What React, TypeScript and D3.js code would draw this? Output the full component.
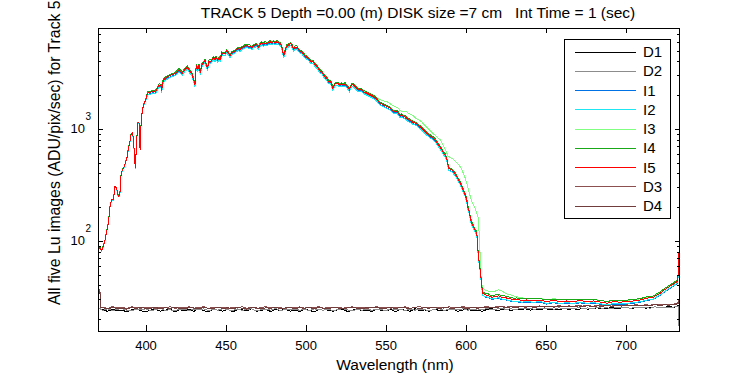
import React from 'react';
import * as d3 from 'd3';

// wavelength grid (nm) for the five Lu images
const wl = [
  370.0,371.3,372.3,373.4,374.4,375.4,376.5,377.5,378.5,379.6,
  380.6,381.7,382.3,383.1,383.8,384.4,385.2,386.5,387.3,388.3,
  389.0,389.8,390.6,391.5,392.1,392.7,393.3,393.9,394.8,395.6,
  396.3,396.9,397.7,398.9,399.8,401.0,402.5,404.0,405.6,406.7,
  408.1,409.4,409.8,410.8,412.3,413.9,416.0,418.1,420.6,422.7,
  424.4,426.0,427.5,428.5,429.8,430.6,431.4,432.3,433.1,433.9,
  434.8,435.8,436.9,437.9,438.5,439.4,440.6,441.5,442.1,443.1,
  443.8,444.8,445.6,446.5,447.3,448.3,449.4,450.4,451.5,452.5,
  453.5,454.6,455.6,456.7,457.7,458.8,459.8,461.5,462.9,463.9,
  465.0,466.0,467.1,468.1,469.2,470.2,471.3,472.3,473.3,474.4,
  475.4,476.5,477.5,478.6,479.6,480.6,481.7,482.7,483.8,484.8,
  485.4,486.1,486.9,487.9,489.4,490.4,491.5,492.1,493.1,494.2,
  495.2,496.3,497.3,498.3,499.4,500.4,501.5,502.5,503.5,504.6,
  505.6,506.7,507.7,508.8,509.8,510.8,512.0,512.9,514.0,515.4,
  516.7,518.1,520.2,521.3,522.3,523.3,524.4,525.4,526.5,527.1,
  527.9,528.5,529.6,530.6,531.7,532.7,533.8,534.8,535.8,537.9,
  540.0,542.1,544.2,545.2,546.3,548.3,550.4,552.5,553.5,554.6,
  556.7,557.7,558.8,559.8,560.8,561.9,562.9,564.0,565.0,566.0,
  567.1,569.2,570.2,571.3,572.3,573.3,574.4,575.4,577.5,579.6,
  580.6,581.7,582.7,583.8,584.8,585.8,586.9,587.9,588.5,588.9,
  590.0,591.0,592.1,593.1,594.2,595.2,596.3,597.3,598.3,599.4,
  600.4,601.0,602.1,602.9,603.5,604.6,605.6,606.7,607.1,607.7,
  608.8,609.4,609.8,610.4,611.9,614.0,616.0,618.1,620.2,622.3,
  624.4,625.4,627.5,629.6,631.7,634.8,637.9,642.1,646.3,650.4,
  654.6,658.8,662.9,667.1,671.3,675.4,679.6,683.8,687.9,692.1,
  696.3,700.4,704.6,708.8,712.9,717.1,719.2,721.3,723.3,725.4,
  727.5,729.6,731.7,732.3,732.9,
];

const I1 = [
  88,86,82,90,102,121,144,202,232,232,
  305,296,258,249,275,388,430,461,510,566,
  673,745,884,915,826,607,445,649,1125,1140,
  649,1086,1480,1695,1815,2031,2057,2101,2077,2174,
  2408,2360,2145,2670,2769,2857,2959,3023,3282,3062,
  3335,3467,3169,3062,2672,2418,3608,3305,3608,3081,
  3608,3783,3973,3539,3417,3920,3920,4056,4197,4056,
  4257,3973,4197,4056,4651,4558,4558,4821,4651,4345,
  4651,4748,4821,4982,5080,4982,5153,5333,5445,5333,
  5333,5153,5406,5445,5523,5226,5523,5714,5523,5714,
  5597,5714,5835,5714,5835,5714,6080,5714,5597,5333,
  4748,4345,4821,5333,5523,5597,5333,4982,5226,5226,
  4982,4821,4748,4558,4345,4257,4139,3973,3861,3861,
  3656,3539,3364,3198,3144,2969,2828,2766,2579,2579,
  2248,2457,2457,2408,2457,2408,2457,2360,2248,2174,
  2330,2408,2408,2330,2248,2174,2204,2174,2101,2031,
  1963,1896,1796,1711,1653,1596,1542,1492,1443,1394,
  1394,1346,1273,1301,1258,1243,1216,1174,1158,1133,
  1112,1082,1037,1023,990,956,923,892,844,805,
  778,736,701,670,633,592,571,523,482,434,
  425,419,406,386,366,341,324,297,274,252,
  226,197,173,150,140,131,122,114,93,70,
  54,44,38,33.2,31.5,31.2,29.9,30.5,30.6,30.1,
  29.8,29.5,29.1,28.5,28.6,28.2,28.3,28.1,28.4,27.3,
  28.1,27.4,27.8,27.4,28,27.5,27.8,27.2,26.6,27.3,
  27.2,27.4,27.8,28.4,29.4,30,31.5,32.6,34.4,36.1,
  37.8,39.4,41.4,43,74,
];

const I2 = [
  87,85,81,89,101,120,143,200,230,230,
  302,293,255,247,272,384,426,456,505,560,
  666,738,875,906,818,601,441,643,1114,1129,
  643,1075,1465,1678,1797,2000,2026,2069,2045,2141,
  2371,2323,2112,2628,2726,2813,2914,2976,3231,3014,
  3283,3414,3120,3014,2630,2381,3552,3254,3552,3034,
  3552,3725,3912,3485,3365,3859,3859,3994,4133,3994,
  4191,3912,4133,3994,4579,4488,4488,4747,4579,4278,
  4579,4675,4747,4906,5002,4906,5074,5251,5362,5251,
  5251,5074,5323,5362,5438,5146,5438,5626,5438,5626,
  5510,5626,5746,5626,5746,5626,5746,5626,5510,5251,
  4675,4278,4747,5251,5438,5510,5251,4906,5146,5146,
  4906,4747,4675,4488,4278,4191,4075,3912,3802,3802,
  3600,3485,3312,3149,3096,2923,2784,2724,2539,2539,
  2214,2419,2419,2371,2419,2371,2419,2323,2214,2141,
  2294,2371,2371,2294,2214,2141,2170,2141,2069,2000,
  1932,1867,1768,1685,1627,1572,1519,1469,1421,1373,
  1373,1325,1254,1281,1238,1224,1197,1156,1140,1116,
  1094,1066,1021,1007,974,941,909,878,831,793,
  766,725,690,660,623,583,563,515,474,427,
  419,413,399,380,360,336,319,293,270,248,
  223,194,170,148,138,129,120,112,91,69,
  53,43,37.5,32.6,31.8,31.4,30.3,30.7,31.2,30.3,
  30.3,29.7,29.5,28.7,29.1,28.4,28.7,28.4,28.7,27.7,
  28.4,27.7,28.1,27.7,28.4,27.7,28.1,27.5,26.8,27.7,
  27.4,27.7,28.1,28.7,29.7,30.3,31.8,32.9,34.7,36.5,
  38.2,39.9,41.8,43.4,75,
];

const I3 = [
  88,86,82,90,102,121,144,202,232,232,
  305,296,258,249,275,388,430,461,510,566,
  673,745,884,915,826,607,445,649,1125,1140,
  649,1086,1480,1695,1815,2083,2110,2155,2130,2230,
  2470,2420,2200,2738,2840,2930,3035,3100,3366,3140,
  3420,3556,3250,3140,2740,2480,3700,3390,3700,3160,
  3700,3880,4075,3630,3505,4020,4020,4160,4305,4160,
  4366,4075,4305,4160,4770,4675,4675,4945,4770,4456,
  4770,4870,4945,5110,5210,5110,5285,5470,5585,5470,
  5470,5285,5545,5585,5665,5360,5665,5860,5665,5860,
  5740,5860,5985,5860,5985,5860,5985,5860,5740,5470,
  4870,4456,4945,5470,5665,5740,5470,5110,5360,5360,
  5110,4945,4870,4675,4456,4366,4245,4075,3960,3960,
  3750,3630,3450,3280,3225,3045,2900,2837,2645,2645,
  2306,2520,2520,2470,2520,2470,2520,2420,2306,2230,
  2390,2470,2470,2390,2306,2230,2260,2230,2170,2100,
  2053,1990,1900,1850,1815,1780,1755,1680,1640,1604,
  1560,1530,1455,1440,1430,1430,1430,1380,1352,1330,
  1306,1222,1205,1188,1150,1110,1070,1036,966,902,
  878,853,825,798,755,705,659,607,585,566,
  558,547,536,518,500,480,461,430,402,365,
  327,305,265,240,224,210,196,177,170,160,
  72,45,40.5,38,36.5,35.6,35.2,35.6,36.5,36,
  34.1,33.6,33,32.3,31.8,31,30.6,30.4,30.6,29.8,
  30.5,29.9,30.2,29.8,30.3,29.7,30.1,29.4,28.9,29.6,
  29.2,29.5,29.9,30.4,31.3,31.9,33.4,34.5,36.4,38.2,
  40,41.7,43.6,45.5,78,
];

const I4 = [
  89,87,83,91,103,122,146,204,235,234,
  308,299,261,252,278,392,434,466,515,572,
  680,752,893,924,834,613,449,656,1136,1151,
  656,1097,1495,1712,1833,2135,2163,2209,2183,2286,
  2532,2481,2255,2806,2911,3003,3111,3178,3450,3219,
  3506,3645,3331,3219,2809,2542,3793,3475,3793,3239,
  3793,3977,4177,3721,3593,4121,4121,4264,4413,4264,
  4475,4177,4413,4264,4889,4792,4792,5069,4889,4567,
  4889,4992,5069,5238,5340,5238,5417,5607,5725,5607,
  5607,5417,5684,5725,5807,5494,5807,6007,5807,6007,
  5884,6007,6135,6007,6135,6007,6135,6007,5884,5607,
  4992,4567,5069,5607,5807,5884,5607,5238,5494,5494,
  5238,5069,4992,4792,4567,4475,4351,4177,4059,4059,
  3844,3721,3536,3362,3306,3121,2973,2908,2711,2711,
  2364,2583,2583,2532,2583,2532,2583,2481,2364,2286,
  2450,2532,2532,2450,2364,2286,2317,2286,2209,2135,
  2063,1994,1888,1799,1737,1678,1622,1568,1517,1466,
  1466,1415,1339,1367,1322,1307,1278,1234,1218,1191,
  1169,1138,1091,1075,1040,1005,971,938,888,847,
  818,774,737,704,665,622,601,549,506,456,
  447,441,426,406,384,359,340,313,288,264,
  238,207,181,158,148,137,128,120,97,74,
  56,46,40,35,34,33.6,32.2,32.9,33.1,32.5,
  32.2,31.9,31.4,30.8,31,30.4,30.5,30.4,30.5,29.7,
  30.2,29.8,29.9,29.7,30.2,29.7,30,29.4,28.8,29.5,
  29.3,29.6,30.1,30.5,31.8,32.3,34,35.1,37,38.8,
  40.6,42.4,44.3,46,79,
];

const I5 = [
  88,86,82,90,102,121,144,202,232,232,
  305,296,258,249,275,388,430,461,510,566,
  673,745,884,915,826,607,445,649,1125,1140,
  649,1086,1480,1695,1815,2083,2110,2155,2130,2230,
  2470,2420,2200,2738,2840,2930,3035,3100,3366,3140,
  3420,3556,3250,3140,2740,2480,3700,3390,3700,3160,
  3700,3880,4075,3630,3505,4020,4020,4160,4305,4160,
  4366,4075,4305,4160,4770,4675,4675,4945,4770,4456,
  4770,4870,4945,5110,5210,5110,5285,5470,5585,5470,
  5470,5285,5545,5585,5665,5360,5665,5860,5665,5860,
  5740,5860,5985,5860,5985,5860,5985,5860,5740,5470,
  4870,4456,4945,5470,5665,5740,5470,5110,5360,5360,
  5110,4945,4870,4675,4456,4366,4245,4075,3960,3960,
  3750,3630,3450,3280,3225,3045,2900,2837,2645,2645,
  2306,2520,2520,2470,2520,2470,2520,2420,2306,2230,
  2390,2470,2470,2390,2306,2230,2260,2230,2155,2083,
  2013,1945,1842,1755,1695,1637,1582,1530,1480,1430,
  1430,1380,1306,1334,1290,1275,1247,1204,1188,1162,
  1140,1110,1064,1049,1015,980,947,915,866,826,
  798,755,719,687,649,607,586,536,494,445,
  436,430,416,396,375,350,332,305,281,258,
  232,202,177,154,144,134,125,117,95,72,
  55,45,39,34,33,32.5,31.4,31.8,32.3,31.4,
  31.4,30.8,30.6,29.7,30.2,29.4,29.7,29.4,29.7,28.7,
  29.4,28.7,29.1,28.7,29.4,28.7,29.1,28.5,27.8,28.7,
  28.4,28.7,29.1,29.7,30.8,31.4,33,34.1,36,37.8,
  39.6,41.3,43.3,45,78,
];

// wavelength grid (nm) for the dark frames
const darkWl = [
  370,371.2,371.6,
  373,376,379,382,385,388,391,394,397,400,
  403,406,409,412,415,418,421,424,427,430,
  433,436,439,442,445,448,451,454,457,460,
  463,466,469,472,475,478,481,484,487,490,
  493,496,499,502,505,508,511,514,517,520,
  523,526,529,532,535,538,541,544,547,550,
  553,556,559,562,565,568,571,574,577,580,
  583,586,589,592,595,598,601,604,607,610,
  613,616,619,622,625,628,631,634,637,640,
  643,646,649,652,655,658,661,664,667,670,
  673,676,679,682,685,688,691,694,697,700,
  703,706,709,712,715,718,721,724,727,730,
  732.4,733,
];

const D1 = [
  25,24.8,24.2,
  24.3,23.5,24.6,23.8,24.1,23.3,24.4,24.8,23.7,23.4,
  24.2,24.5,23.6,24.0,24.7,23.2,24.3,23.9,24.5,23.5,
  24.9,23.8,23.4,24.4,24.1,23.6,24.6,23.3,24.2,24.3,
  23.7,24.8,23.5,24.0,24.4,23.4,24.5,23.8,24.7,23.6,
  24.2,23.5,24.6,24.0,23.3,24.4,24.8,23.9,23.6,24.3,
  24.5,23.4,24.1,24.7,23.7,24.2,23.5,24.6,24.0,23.8,
  24.4,23.4,24.5,24.1,23.6,24.8,23.9,24.2,23.5,24.6,
  24.0,23.7,24.3,24.6,23.5,24.2,24.7,23.8,24.1,23.6,
  24.4,24.9,23.9,24.3,24.6,24.0,24.5,24.2,24.8,24.1,
  24.6,24.3,24.9,24.4,24.7,24.2,25.0,24.5,24.8,24.4,
  25.1,24.6,24.9,25.3,24.7,25.0,25.4,24.9,25.2,25.5,
  25.0,25.3,25.7,25.1,25.4,25.8,25.2,25.6,25.9,25.5,
  26.5,25,
];

const D2 = [
  25.5,25,24.5,
  24.0,24.7,23.9,24.5,24.9,24.1,23.8,24.6,24.2,24.8,
  23.7,24.4,24.9,24.0,24.3,23.8,24.7,24.5,23.9,24.6,
  24.2,24.8,23.8,24.4,24.1,24.9,24.3,23.9,24.7,24.0,
  24.5,24.8,23.7,24.3,24.6,24.1,24.9,23.9,24.4,24.2,
  24.7,24.0,24.5,23.8,24.8,24.3,24.1,24.6,23.9,24.4,
  24.9,24.2,23.8,24.5,24.1,24.7,24.0,24.6,24.3,23.9,
  24.8,24.2,24.5,23.9,24.6,24.1,24.7,24.4,23.8,24.5,
  24.9,24.0,24.3,24.6,24.2,24.8,24.1,24.5,24.7,24.3,
  24.9,24.4,24.6,25.0,24.5,24.8,24.3,25.1,24.7,24.9,
  24.5,25.2,24.8,25.0,24.6,25.3,24.9,25.1,24.7,25.4,
  25.0,25.2,24.8,25.5,25.1,25.3,24.9,25.6,25.2,25.4,
  25.0,25.7,25.3,25.5,25.1,25.8,25.4,25.6,25.2,25.7,
  26,17.5,
];

const D3 = [
  37.5,37,25.5,
  25.6,25.0,25.9,25.2,25.5,24.9,25.8,25.3,25.1,25.7,
  25.4,24.9,25.6,25.2,25.9,25.0,25.5,25.3,25.8,25.1,
  25.4,25.9,25.0,25.6,25.2,25.7,24.9,25.5,25.3,25.8,
  25.1,25.6,25.0,25.4,25.9,25.2,25.7,25.3,25.0,25.6,
  25.2,25.8,25.1,25.5,25.4,25.9,25.0,25.6,25.3,25.7,
  25.1,25.5,25.8,25.2,25.6,25.0,25.4,25.9,25.3,25.7,
  25.1,25.6,25.4,25.8,25.0,25.5,25.9,25.2,25.7,25.3,
  25.6,25.1,25.8,25.4,25.5,25.9,25.3,25.7,25.2,25.6,
  25.9,25.4,25.8,26.1,25.6,26.0,25.7,26.2,25.8,26.1,
  25.9,26.3,25.8,26.2,26.0,26.4,25.9,26.3,26.1,26.5,
  26.2,26.6,26.1,26.5,26.3,26.8,26.2,26.7,26.4,26.9,
  26.5,27.0,26.6,26.9,26.7,27.2,26.8,27.1,26.9,27.3,
  28,30,
];

const D4 = [
  36,35.5,25.2,
  25.3,24.7,25.5,24.9,25.2,24.6,25.4,25.0,25.6,24.8,
  25.1,25.5,24.7,25.3,24.9,25.6,25.0,24.8,25.4,25.2,
  24.7,25.5,25.1,24.9,25.6,25.0,25.3,24.8,25.4,25.1,
  24.6,25.5,25.2,24.9,25.3,25.0,25.6,24.8,25.2,25.4,
  24.9,25.3,25.0,25.6,24.7,25.4,25.1,24.9,25.5,25.2,
  24.8,25.3,25.6,25.0,24.9,25.4,25.2,25.5,24.8,25.1,
  25.4,24.9,25.6,25.2,25.0,25.5,24.8,25.3,25.1,25.6,
  24.9,25.4,25.2,25.0,25.5,25.3,24.9,25.6,25.1,25.4,
  25.7,25.2,25.5,25.9,25.4,25.8,25.3,26.0,25.6,25.9,
  25.5,26.1,25.7,26.0,25.6,26.2,25.8,26.1,25.7,26.3,
  26.0,26.4,25.9,26.3,26.1,26.6,26.0,26.5,26.2,26.7,
  26.3,26.8,26.4,26.7,26.5,27.0,26.6,26.9,26.7,27.1,
  27.5,29,
];

const xTicks = [400, 450, 500, 550, 600, 650, 700];
const legendNames = ['D1', 'D2', 'I1', 'I2', 'I3', 'I4', 'I5', 'D3', 'D4'];
const legendColors = ['#000000', '#8c8c8c', '#0072e6', '#1ee6f2', '#80ff80', '#18a818', '#ff0000', '#8c5050', '#703c3c'];

const FONT = '"Liberation Sans", Arial, Helvetica, sans-serif';

export default function App() {
  const left = 98, right = 679, top = 28, bottom = 331;
  const x = d3.scaleLinear().domain([370, 733]).range([left, right]);
  const y = d3.scaleLog().domain([15.7, 7950]).range([bottom, top]);

  const series = [
    { xs: darkWl, ys: D1 },
    { xs: darkWl, ys: D2 },
    { xs: wl, ys: I1 },
    { xs: wl, ys: I2 },
    { xs: wl, ys: I3 },
    { xs: wl, ys: I4 },
    { xs: wl, ys: I5 },
    { xs: darkWl, ys: D3 },
    { xs: darkWl, ys: D4 },
  ];

  const pathFor = (xs: number[], ys: number[]) =>
    d3.line<number>()
      .x((_d, i) => x(xs[i]))
      .y(d => y(d))(ys) || '';

  const yTicks = y.ticks();
  const isMajor = (v: number) => Math.abs(Math.log10(v) - Math.round(Math.log10(v))) < 1e-9;
  const px = (v: number) => Math.round(v) + 0.5;

  return (
    <div style={{ position: 'absolute', left: 0, top: 0 }}>
      <svg width={750} height={375} style={{ display: 'block', background: '#fff', fontFamily: FONT }}>
        <defs>
          <clipPath id="plot">
            <rect x={left} y={top} width={right - left + 1} height={bottom - top + 1} />
          </clipPath>
        </defs>

        {/* data, aliased like the original plot */}
        <g clipPath="url(#plot)" shapeRendering="crispEdges">
          {series.map((s, i) => (
            <path key={legendNames[i]} d={pathFor(s.xs, s.ys)} fill="none"
              stroke={legendColors[i]} strokeWidth={1} />
          ))}
        </g>

        {/* axes box */}
        <rect x={left + 0.5} y={top + 0.5} width={right - left} height={bottom - top}
          fill="none" stroke="#000" strokeWidth={1} shapeRendering="crispEdges" />

        {/* ticks */}
        <g shapeRendering="crispEdges" stroke="#000">
          {xTicks.map(t => (
            <g key={t}>
              <line x1={px(x(t))} x2={px(x(t))} y1={bottom} y2={bottom - 6} />
              <line x1={px(x(t))} x2={px(x(t))} y1={top} y2={top + 5} />
            </g>
          ))}
          {yTicks.map(t => {
            const len = isMajor(t) ? 5 : 3;
            const yy = px(y(t));
            return (
              <g key={t}>
                <line x1={left} x2={left + len} y1={yy} y2={yy} />
                <line x1={right + 1} x2={right + 1 - len} y1={yy} y2={yy} />
              </g>
            );
          })}
        </g>

        {xTicks.map(t => (
          <text key={t} x={x(t)} y={350} fontSize={13} textAnchor="middle">{t}</text>
        ))}

        {yTicks.filter(isMajor).map(t => (
          <g key={t}>
            <text x={85} y={y(t) + 4.5} fontSize={13} textAnchor="end">10</text>
            <text x={85.5} y={y(t) - 9} fontSize={10}>{Math.round(Math.log10(t))}</text>
          </g>
        ))}

        <text x={418} y={18} fontSize={15.5} textAnchor="middle" style={{ whiteSpace: 'pre' }}>
          {'TRACK 5 Depth =0.00 (m) DISK size =7 cm   Int Time = 1 (sec)'}
        </text>
        <text x={395} y={370} fontSize={15.5} textAnchor="middle">Wavelength (nm)</text>
        <text transform="translate(60,305) rotate(-90)" fontSize={15.8}>
          All five Lu images (ADU/pix/sec) for Track 5
        </text>

        {/* legend */}
        <rect x={564.5} y={39.5} width={106} height={179} fill="#fff" stroke="#000" strokeWidth={1}
          shapeRendering="crispEdges" />
        {legendNames.map((n, i) => {
          const ry = 51.5 + i * 19.25;
          return (
            <g key={n}>
              <line x1={575} x2={636} y1={Math.round(ry) + 0.5} y2={Math.round(ry) + 0.5}
                stroke={legendColors[i]} strokeWidth={1} shapeRendering="crispEdges" />
              <text x={643} y={ry + 5.5} fontSize={15}>{n}</text>
            </g>
          );
        })}
      </svg>
    </div>
  );
}
